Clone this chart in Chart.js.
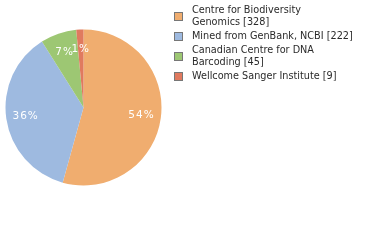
<!DOCTYPE html>
<html>
<head>
<meta charset="utf-8">
<script src="https://cdn.jsdelivr.net/npm/chart.js@4"></script>
<style>
  body { margin: 0; background: #fff; }
  #wrap { position: relative; width: 380px; height: 240px; }
  #legend { position: absolute; left: 174px; top: 4px; list-style: none; margin: 0; padding: 0;
            font-family: "DejaVu Sans", sans-serif; font-size: 9.7px; color: #2a2a2a; line-height: 12px; }
  #legend li { position: relative; padding-left: 18px; margin-bottom: 2px; width: 180px; }
  #legend .box { position: absolute; left: 0; top: 50%; margin-top: -4px; width: 7px; height: 7px; border: 1px solid #777; }
</style>
</head>
<body>
<div id="wrap">
  <canvas id="myChart" width="380" height="240"></canvas>
  <ul id="legend"></ul>
</div>
<script>
const labels = ["Centre for Biodiversity Genomics", "Mined from GenBank, NCBI", "Canadian Centre for DNA Barcoding", "Wellcome Sanger Institute"]
const legendLines = [["Centre for Biodiversity", "Genomics [328]"], ["Mined from GenBank, NCBI [222]"], ["Canadian Centre for DNA", "Barcoding [45]"], ["Wellcome Sanger Institute [9]"]]
const counts = [328, 222, 45, 9]
const pctLabels = ["54%", "36%", "7%", "1%"]
const colors = ["#f0ad6f", "#9ebae0", "#9dc773", "#e07a5f"]

const ctx = document.getElementById('myChart')
const legend = document.getElementById('legend')

let kod = ""
legendLines.forEach((lines, i) => {
    kod += `<li><span class="box" style="background:${colors[i]}"></span>${lines.join("<br>")}</li>`
})
legend.innerHTML = kod

// percentage text inside each slice
const pctPlugin = {
    id: 'pct',
    afterDatasetsDraw(chart) {
        const c = chart.ctx
        const meta = chart.getDatasetMeta(0)
        c.save()
        c.font = '10.5px "DejaVu Sans", sans-serif'
        c.letterSpacing = '1px'
        c.fillStyle = '#fff'
        c.textAlign = 'center'
        c.textBaseline = 'middle'
        meta.data.forEach((arc, i) => {
            const mid = (arc.startAngle + arc.endAngle) / 2
            const r = arc.outerRadius * 0.75
            c.fillText(pctLabels[i], arc.x + Math.cos(mid) * r, arc.y + Math.sin(mid) * r)
        })
        c.restore()
    }
}

new Chart(ctx, {
    type: 'pie',
    data: {
        labels: labels,
        datasets: [{
            data: counts,
            backgroundColor: colors,
            borderWidth: 0
        }]
    },
    options: {
        responsive: false,
        animation: false,
        layout: { padding: { left: 5, top: 29.5, right: 218, bottom: 54.5 } },
        plugins: {
            legend: { display: false },
            tooltip: { enabled: false }
        }
    },
    plugins: [pctPlugin]
});
</script>
</body>
</html>
